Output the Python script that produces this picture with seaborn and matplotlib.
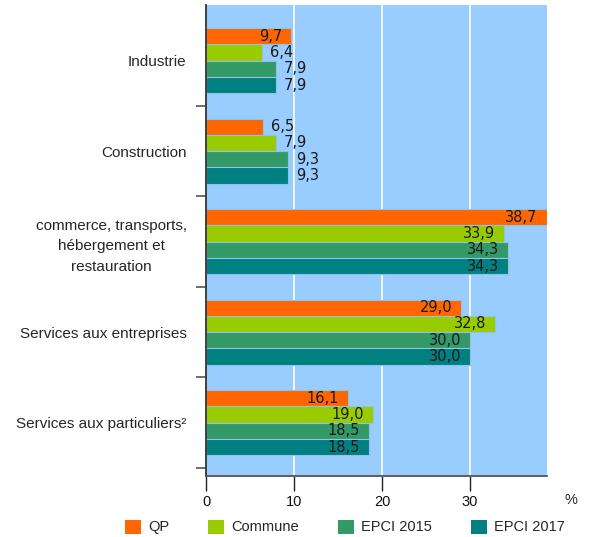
import pandas as pd
import matplotlib.pyplot as plt
import seaborn as sns
from matplotlib.patches import Patch

# categories and series values (percent)
categories = ["Industrie",
              "Construction",
              "commerce, transports,\nhébergement et\nrestauration",
              "Services aux entreprises",
              "Services aux particuliers²"]
series = ["QP", "Commune", "EPCI 2015", "EPCI 2017"]
qp = [9.7, 6.5, 38.7, 29.0, 16.1]
commune = [6.4, 7.9, 33.9, 32.8, 19.0]
epci_2015 = [7.9, 9.3, 34.3, 30.0, 18.5]
epci_2017 = [7.9, 9.3, 34.3, 30.0, 18.5]
colors = ["#FF6600", "#99CC00", "#339966", "#008080"]
x_ticks = [0, 10, 20, 30]

# long-form table for seaborn
rows = []
for name, vals in zip(series, [qp, commune, epci_2015, epci_2017]):
    for cat, v in zip(categories, vals):
        rows.append({"secteur": cat, "serie": name, "valeur": v})
df = pd.DataFrame(rows)

sns.set_style("white")
plt.rcParams['font.family'] = ['Liberation Sans', 'DejaVu Sans']

fig = plt.figure(figsize=(5.91, 5.37), dpi=100)
ax = fig.add_axes([206 / 591, 1 - 476 / 537, 341 / 591, 471 / 537])
ax.set_facecolor("#99CCFF")

sns.barplot(data=df, y="secteur", x="valeur", hue="serie", orient="h",
            palette=colors, saturation=1, width=0.72, edgecolor="#8fc3e8",
            linewidth=0.8, legend=False, ax=ax)

# value labels: inside the bar end for long bars, after the bar otherwise
for cont, vals in zip(ax.containers, [qp, commune, epci_2015, epci_2017]):
    for bar, v in zip(cont, vals):
        y = bar.get_y() + bar.get_height() / 2
        txt = f"{v:.1f}".replace(".", ",")
        if v >= 9.5:
            ax.text(v - 1.0, y, txt, ha="right", va="center", fontsize=10.5,
                    color="#1a1a1a", family="DejaVu Sans")
        else:
            ax.text(v + 0.9, y, txt, ha="left", va="center", fontsize=10.5,
                    color="#1a1a1a", family="DejaVu Sans")

ax.set_xlim(0, 38.75)
ax.set_ylim(4.59, -0.615)
ax.set_xticks(x_ticks)
ax.set_xticklabels([str(t) for t in x_ticks], fontsize=10.5)
for t in x_ticks[1:]:
    ax.axvline(t, color="white", linewidth=1.2, zorder=0.5)

# category labels between boundary ticks
ax.set_yticks(range(len(categories)))
ax.set_yticklabels(categories, fontsize=11, multialignment="center",
                   linespacing=1.6)
ax.tick_params(axis="y", which="major", length=0, pad=14)
ax.set_yticks([i + 0.5 for i in range(len(categories))], minor=True)
ax.tick_params(axis="y", which="minor", left=True, length=7,
               color="#555555", width=1.2)
ax.tick_params(axis="x", length=11, color="#222222", width=1, pad=3,
               bottom=True, labelcolor="#111111")
ax.set_xlabel("")
ax.set_ylabel("")

for side in ["top", "right"]:
    ax.spines[side].set_visible(False)
ax.spines["left"].set_color("#333333")
ax.spines["left"].set_linewidth(1.3)
ax.spines["bottom"].set_color("#555555")
ax.spines["bottom"].set_linewidth(1.3)

fig.text(571 / 591, 1 - 500 / 537, "%", ha="center", va="center", fontsize=10.5)

handles = [Patch(facecolor=c, edgecolor="none") for c in colors]
fig.legend(handles, series, loc="center left", ncol=4, frameon=False,
           bbox_to_anchor=(118 / 591, 1 - 527 / 537), fontsize=10.5,
           handlelength=1.1, handleheight=1.1, handletextpad=0.5,
           columnspacing=2.65, borderpad=0)

fig.savefig("out.png", dpi=100)
